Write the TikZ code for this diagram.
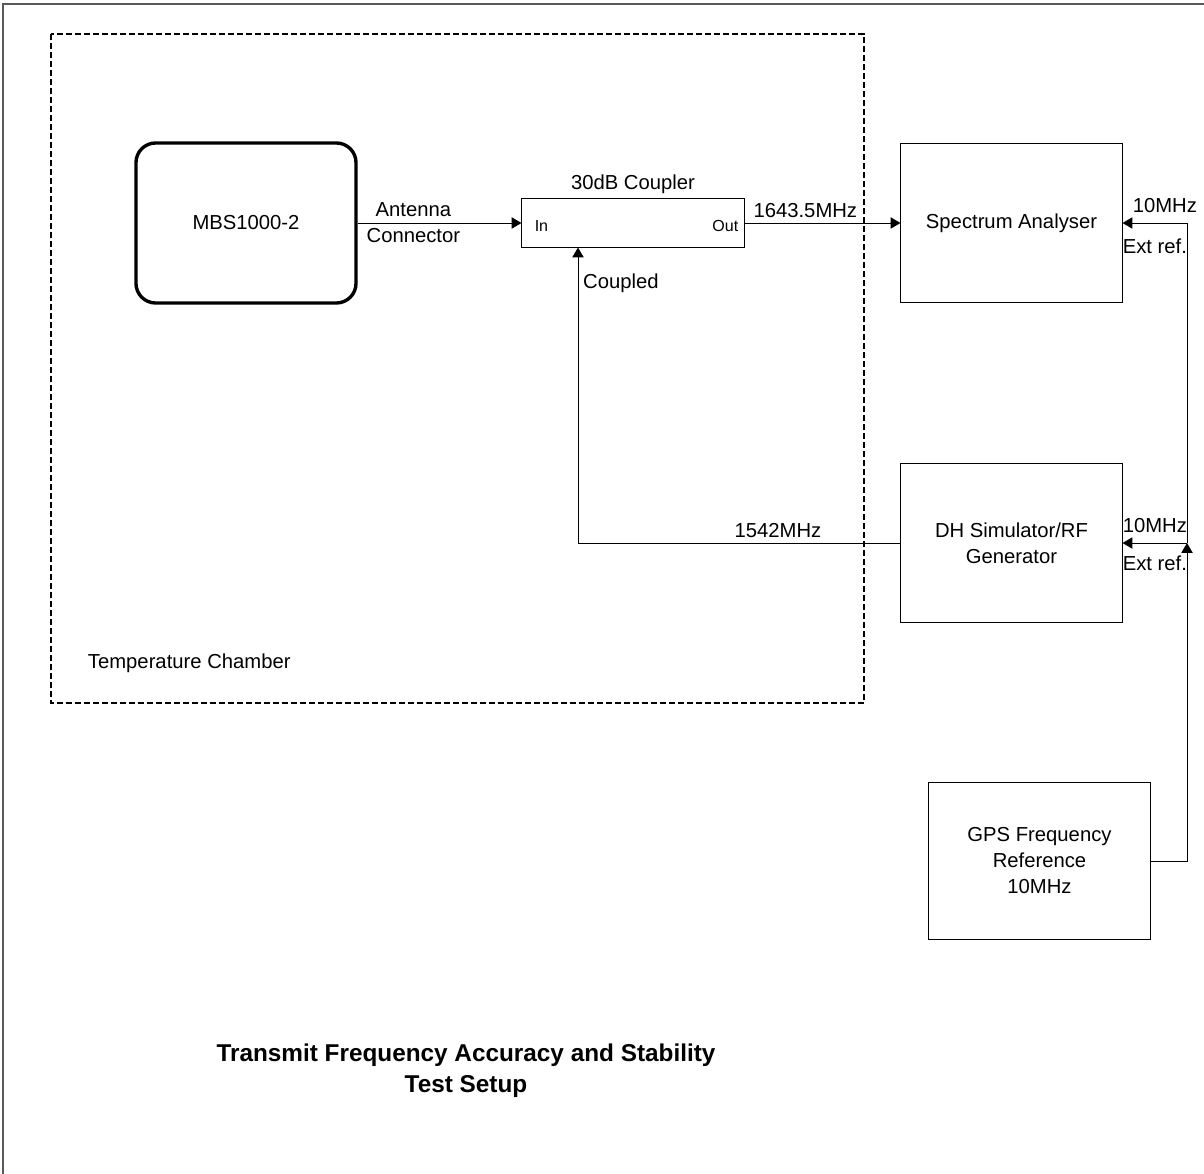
\documentclass[tikz,border=0pt]{standalone}
\usepackage{fontspec}
\setmainfont{Liberation Sans}
\usetikzlibrary{positioning, arrows.meta}

\begin{document}
\begin{tikzpicture}[x=0.025cm, y=-0.025cm,
        every node/.style={font=\fontsize{14.4}{18.5}\selectfont},
        unit/.style={draw, line width=0.7pt, minimum width=5.525cm, minimum height=3.975cm, align=center},
        dut/.style={draw, line width=2.4pt, rounded corners=14pt, minimum width=5.5cm, minimum height=4cm},
        port/.style={font=\fontsize{11.4}{13}\selectfont, inner sep=0pt},
        conn/.style={line width=0.7pt, -{Triangle[length=7pt,width=8pt]}},
        chamber/.style={line width=1.6pt, dash pattern=on 4.3pt off 2.1pt}]
        \useasboundingbox (0,0) rectangle (1204,1174);
        % Frame
        \draw[line width=1pt, black!65] (3,1174) -- (3,4) -- (1204,4);
        % Temperature chamber
        \draw[chamber] (51,34) rectangle (864,703);
        \node[anchor=west] (chambertxt) at (83,663) {Temperature Chamber};
        % Boxes
        \node[dut] (mbs) at (246,223) {MBS1000-2};
        \node[draw, line width=0.7pt, minimum width=5.55cm, minimum height=1.2cm] (coupler) at (633,223) {};
        \node[unit] (sa) at (1011.5,223) {Spectrum Analyser};
        \node[unit] (dh) at (1011.5,543) {DH Simulator/RF\\Generator};
        \node[unit, minimum height=3.925cm] (gps) at (1039.5,861) {GPS Frequency\\Reference\\10MHz};
        % Coupler labels
        \node[above=0pt of coupler] (cplname) {30dB Coupler};
        \node[port, anchor=west] (inport) at ([shift={(0.325cm,-0.075cm)}]coupler.west) {In};
        \node[port, anchor=east] (outport) at ([shift={(-0.15cm,-0.075cm)}]coupler.east) {Out};
        % RF path
        \draw[conn] (mbs) -- node[pos=0.34, align=center] (antlbl) {Antenna\\Connector} (coupler);
        \draw[conn] (coupler) -- node[above, pos=0.39] (outlbl) {1643.5MHz} (sa);
        \coordinate (cpl) at ([xshift=-1.375cm]coupler.south);
        \draw[conn] (dh.west) -| node[above, pos=0.19] (rflbl) {1542MHz}
            node[right, pos=0.94] (cpllbl) {Coupled} (cpl);
        % 10MHz reference
        \coordinate (junc) at (1187,543);
        \draw[conn] (gps.east) -| (junc);
        \draw[conn] (junc) -- (dh.east);
        \draw[conn] (junc) |- (sa.east);
        \node[anchor=base west, inner sep=0pt] (saref) at ([shift={(0.25cm,0.25cm)}]sa.east) {10MHz};
        \node[anchor=base west, inner sep=0pt] (saext) at ([yshift=-0.75cm]sa.east) {Ext ref.};
        \node[anchor=base west, inner sep=0pt] (dhref) at ([yshift=0.25cm]dh.east) {10MHz};
        \node[anchor=base west, inner sep=0pt] (dhext) at ([yshift=-0.675cm]dh.east) {Ext ref.};
        % Title
        \node[font=\bfseries\fontsize{17.3}{22}\selectfont, align=center] (title) at (466,1071)
            {Transmit Frequency Accuracy and Stability\\Test Setup};
\end{tikzpicture}
\end{document}
